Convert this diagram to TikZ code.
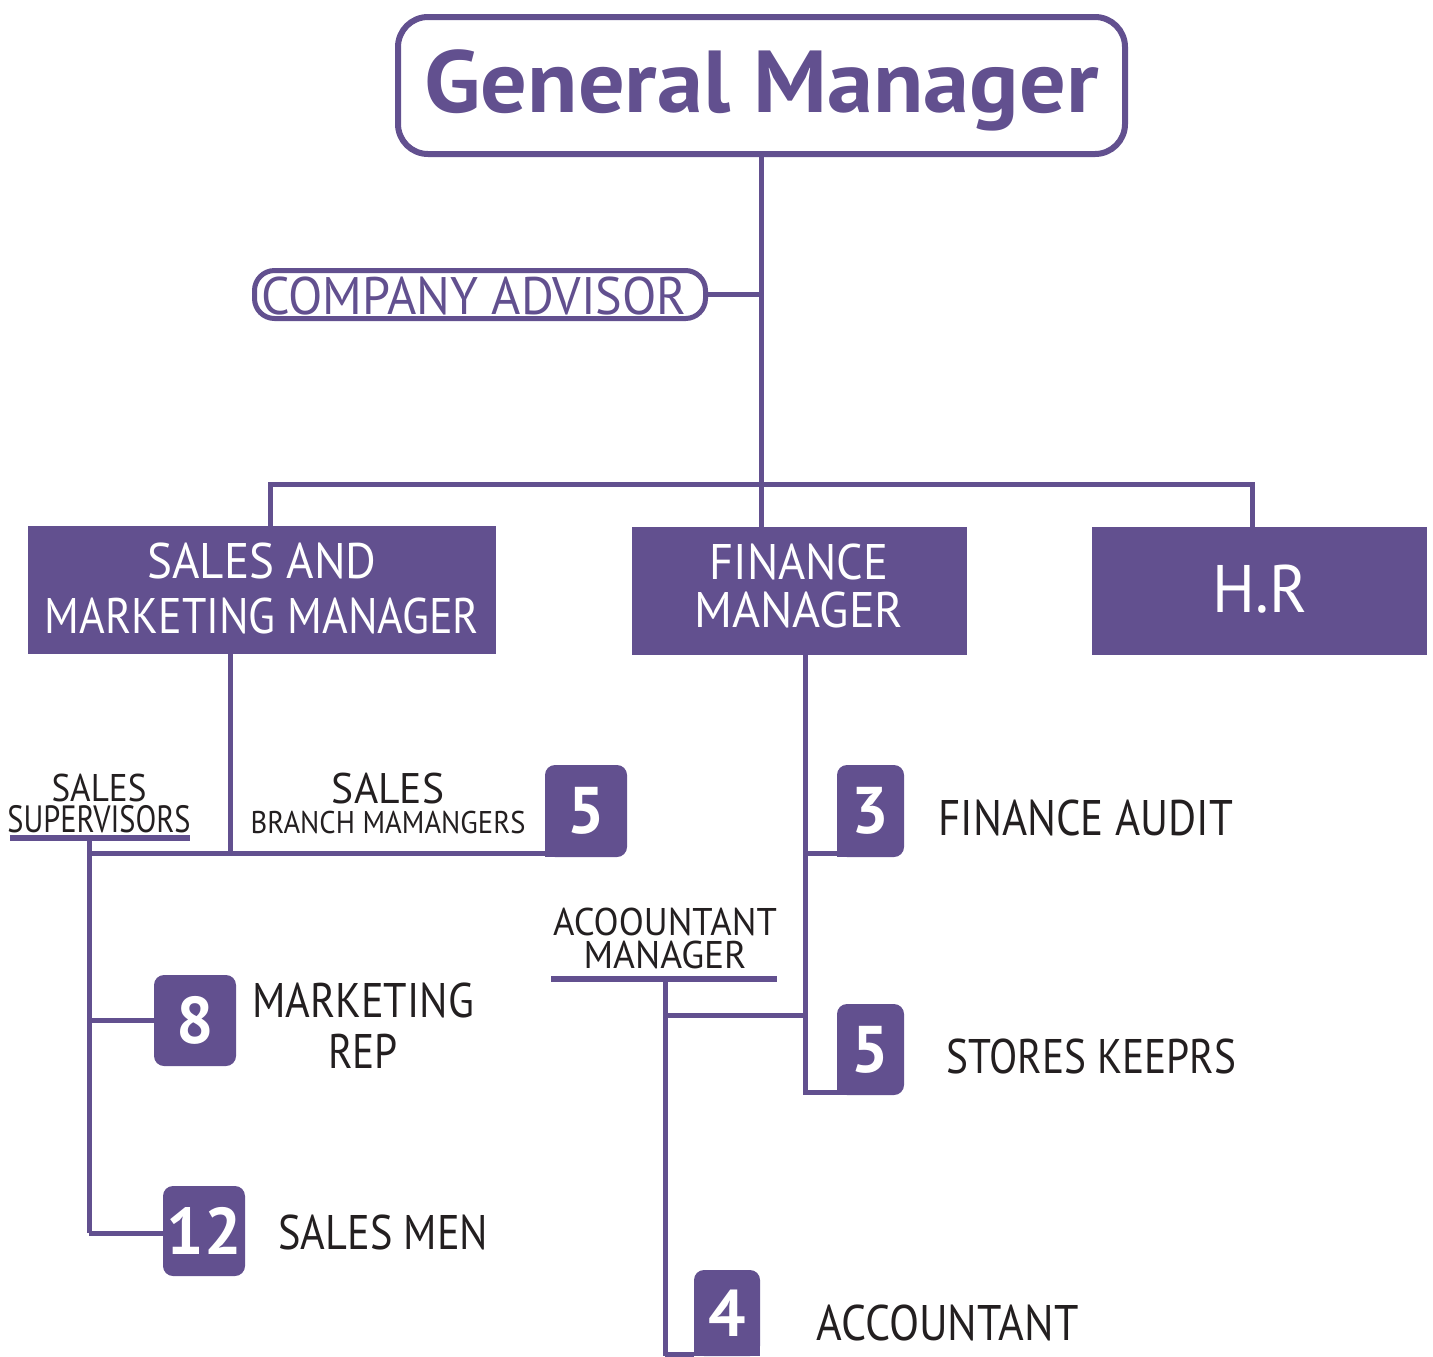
\documentclass[tikz,border=0pt]{standalone}
\usepackage{graphicx}
\usepackage{fontspec}
\setmainfont{PT Sans}
\definecolor{pur}{RGB}{98,80,143}
\definecolor{ink}{RGB}{35,31,32}
\newcommand\myfs[1]{\fontsize{#1}{#1}\selectfont}
\newcommand\sx[2]{\scalebox{#1}[1]{#2}}
\begin{document}
\begin{tikzpicture}[x=0.5pt,y=-0.5pt,
  conn/.style={draw=pur,line width=2.5pt},
  uline/.style={draw=pur,line width=3pt},
  outlinebox/.style={draw=pur,line width=3pt,rounded corners=15pt,inner sep=0pt},
  fillbox/.style={fill=pur,text=white,inner sep=0pt,minimum height=64pt},
  badge/.style={fill=pur,text=white,rounded corners=5pt,inner sep=0pt,font=\bfseries\myfs{33}},
  lbl/.style={anchor=base,text=ink,inner sep=0pt},
  wlbl/.style={anchor=base,text=white,inner sep=0pt}]
\useasboundingbox (0,0) rectangle (1433,1356);

% top boxes
\node[outlinebox,minimum width=363.5pt,minimum height=68.5pt] (gm) at (761.5,85.5) {};
\node[anchor=base,text=pur,font=\bfseries\myfs{44},inner sep=0pt] (gmt) at (761.5,112) {\sx{1.05}{General Manager}};
\node[outlinebox,rounded corners=10pt,line width=2.5pt,minimum width=225.5pt,minimum height=24pt] (adv) at (480,294.5) {};
\node[anchor=base,text=pur,font=\myfs{26.4},inner sep=0pt] (advt) at (474,314) {\sx{0.95}{COMPANY ADVISOR}};

\node[fillbox,minimum width=234pt] (sm) at (262,590) {};
\node[wlbl,font=\myfs{25}] (sm1) at (262,578) {\sx{0.94}{SALES AND}};
\node[wlbl,font=\myfs{25}] (sm2) at (262,633) {\sx{0.88}{MARKETING MANAGER}};
\node[fillbox,minimum width=167.5pt] (fm) at (799.5,591) {};
\node[wlbl,font=\myfs{25}] (fm1) at (799,579) {\sx{0.93}{FINANCE}};
\node[wlbl,font=\myfs{25}] (fm2) at (799,627) {\sx{0.96}{MANAGER}};
\node[fillbox,minimum width=167.5pt] (hr) at (1259.5,591) {};
\node[wlbl,font=\myfs{33.6}] (hrt) at (1260,612) {\sx{0.95}{H.R}};

% top connectors
\coordinate (hbL) at (270,484);
\coordinate (hbR) at (1252,484);
\draw[conn] (gm.south) -- (gm.south |- fm.north);
\draw[conn] (adv.east) -- (adv.east -| gm.south);
\draw[conn] (sm.north -| hbL) -- (hbL) -- (hbR) -- (hbR |- hr.north);

% sales branch
\node[badge,minimum width=41pt,minimum height=46pt] (b5a) at (586,811) {5};
\fill[pur] (b5a.south west) rectangle ++(14,-14);
\node[lbl,font=\myfs{19.3}] (ss1) at (99,801) {\sx{0.91}{SALES}};
\node[lbl,font=\myfs{19}] (ss2) at (99,832) {\sx{0.8}{SUPERVISORS}};
\coordinate (ulA) at (10,838);
\coordinate (ulB) at (190,838);
\draw[uline] (ulA) -- (ulB);
\node[lbl,font=\myfs{21.4}] (sb1) at (388,803) {\sx{0.97}{SALES}};
\node[lbl,font=\myfs{15.7}] (sb2) at (388,833) {\sx{0.91}{BRANCH MAMANGERS}};

\coordinate (sj) at (230,853);
\coordinate (svtop) at (89,838);
\coordinate (svbot) at (89,1233);
\draw[conn] (sm.south -| sj) -- (sj);
\draw[conn] (svtop |- sj) -- (b5a.west |- sj);
\draw[conn] (svtop) -- (svbot);

\node[badge,minimum width=41pt,minimum height=45.5pt] (b8) at (195,1020.5) {8};
\node[badge,minimum width=41pt,minimum height=45pt] (b12) at (204,1231) {12};
\draw[conn] (svtop |- b8.west) -- (b8.west);
\draw[conn] (svbot) -- (svbot -| b12.west);
\node[lbl,font=\myfs{24.3}] (mr1) at (363,1017) {\sx{0.87}{MARKETING}};
\node[lbl,font=\myfs{24.3}] (mr2) at (363,1068) {\sx{0.85}{REP}};
\node[lbl,font=\myfs{24.3},anchor=base west] (smen) at (278,1249) {\sx{0.87}{SALES MEN}};

% finance branch
\node[badge,minimum width=33.5pt,minimum height=46pt] (b3) at (870.5,811) {3};
\fill[pur] (b3.south west) rectangle ++(14,-14);
\node[badge,minimum width=33.5pt,minimum height=45.5pt] (b5b) at (870.5,1049.5) {5};
\fill[pur] (b5b.south west) rectangle ++(14,-14);
\coordinate (fv) at (805,1092);
\draw[conn] (fm.south -| fv) -- (fv) -- (fv -| b5b.west);
\coordinate (f3) at (805,853);
\draw[conn] (f3) -- (f3 -| b3.west);
\node[lbl,font=\myfs{25},anchor=base west] (fa) at (938,835) {\sx{0.86}{FINANCE AUDIT}};
\node[lbl,font=\myfs{24.3},anchor=base west] (sk) at (946,1073) {\sx{0.85}{STORES KEEPRS}};

% accountant manager
\node[lbl,font=\myfs{19.3}] (am1) at (665,935) {\sx{0.95}{ACOOUNTANT}};
\node[lbl,font=\myfs{19.3}] (am2) at (665,968) {\sx{0.97}{MANAGER}};
\coordinate (ul2A) at (551,979);
\coordinate (ul2B) at (777,979);
\draw[uline] (ul2A) -- (ul2B);
\coordinate (avtop) at (665,979);
\coordinate (avbot) at (665,1356);
\coordinate (aj) at (665,1015);
\draw[conn] (avtop) -- (avbot);
\draw[conn] (aj) -- (aj -| fv);
\node[badge,minimum width=33pt,minimum height=43pt] (b4) at (727,1313) {4};
\fill[pur] (b4.south west) rectangle ++(14,-14);
\fill[pur] (b4.south east) rectangle ++(-14,-14);
\coordinate (ab) at (665,1354);
\draw[conn] (ab) -- (ab -| b4.west);
\node[lbl,font=\myfs{25},anchor=base west] (acc) at (816,1340) {\sx{0.88}{ACCOUNTANT}};
\end{tikzpicture}
\end{document}
